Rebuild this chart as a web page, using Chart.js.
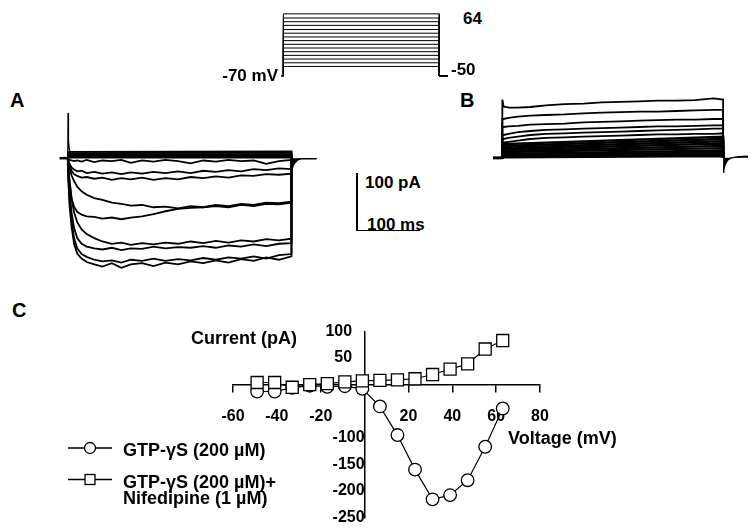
<!DOCTYPE html>
<html>
<head>
<meta charset="utf-8">
<script src="https://cdn.jsdelivr.net/npm/chart.js@4.4.0/dist/chart.umd.min.js"></script>
<style>
  body { margin: 0; width: 751px; height: 531px; background: #fff; position: relative; overflow: hidden; }
  canvas, .t, .bar { position: absolute; }
  .t { font-family: 'Liberation Sans', Arial, sans-serif; font-weight: bold; color: #000; white-space: nowrap; }
  .bar { background: #000; }
</style>
</head>
<body>
<canvas id="proto" width="169" height="66" style="left:279px;top:12px"></canvas>
<canvas id="panelA" width="271" height="174" style="left:52px;top:104px"></canvas>
<canvas id="panelB" width="255" height="80" style="left:493px;top:95px"></canvas>
<canvas id="panelC" width="400" height="216" style="left:175px;top:316px"></canvas>

<div class="t" style="left:10px;top:90px;font-size:20px;line-height:20px">A</div>
<div class="t" style="left:460px;top:90px;font-size:20px;line-height:20px">B</div>
<div class="t" style="left:12px;top:300px;font-size:20px;line-height:20px">C</div>

<div class="t" style="right:473px;top:67px;font-size:17px;line-height:17px">-70 mV</div>
<div class="t" style="left:463px;top:10px;font-size:17px;line-height:17px">64</div>
<div class="t" style="left:451px;top:61px;font-size:17px;line-height:17px">-50</div>

<div class="bar" style="left:356px;top:173px;width:1.5px;height:58px"></div>
<div class="bar" style="left:356px;top:229.5px;width:64px;height:1.5px"></div>
<div class="t" style="left:365px;top:174px;font-size:17px;line-height:17px">100 pA</div>
<div class="t" style="left:367px;top:216px;font-size:17px;line-height:17px">100 ms</div>

<div class="t" style="left:191px;top:329px;font-size:18px;line-height:18px">Current (pA)</div>
<div class="t" style="left:508px;top:429px;font-size:18px;line-height:18px">Voltage (mV)</div>

<svg style="position:absolute;left:60px;top:435px" width="60" height="60">
  <line x1="8" y1="13" x2="52" y2="13" stroke="#000" stroke-width="1.3"/>
  <circle cx="30" cy="13" r="5.5" fill="#fff" stroke="#000" stroke-width="1.3"/>
  <line x1="8" y1="44.5" x2="52" y2="44.5" stroke="#000" stroke-width="1.3"/>
  <rect x="25" y="39.5" width="10" height="10" fill="#fff" stroke="#000" stroke-width="1.3"/>
</svg>
<div class="t" style="left:123px;top:441px;font-size:18px;line-height:18px">GTP-γS (200 µM)</div>
<div class="t" style="left:123px;top:473px;font-size:18px;line-height:18px">GTP-γS (200 µM)+</div>
<div class="t" style="left:123px;top:489px;font-size:18px;line-height:18px">Nifedipine (1 µM)</div>

<script>
// panel C: I-V relation
const ivVoltage = [-49, -41, -33, -25, -17, -9, -1, 7, 15, 23, 31, 39, 47, 55, 63];
const ivGtp = [-13, -13, -6, -2, -4, -3, -8, -41, -95, -160, -216, -208, -180, -117, -45];
const ivGtpNif = [4, 4, -5, 0, 2, 5, 7, 8, 9, 11, 19, 29, 39, 67, 83];
const ivXTicks = [-60, -40, -20, 0, 20, 40, 60, 80];

// voltage protocol (mV)
const holdingMv = -70;
const stepLevels = [-50, -42, -34, -26, -18, -10, -2, 6, 14, 22, 30, 39, 47, 55, 64];
const pulseMs = 355;

// panel A traces (pA), GTP-gS
const tA = [0, 1, 3, 6, 10, 15, 22, 30, 42, 55, 70, 85, 100, 118, 136, 155, 175, 195, 215, 235, 255, 275, 295, 315, 335, 355];
const traceA1 = [0, -40, -85, -120, -150, -167, -176, -182, -186, -190, -184, -192, -186, -184, -189, -183, -186, -181, -184, -179, -183, -177, -180, -174, -178, -172];
const traceA2 = [0, -35, -75, -110, -140, -158, -168, -173, -178, -181, -179, -183, -178, -180, -176, -180, -177, -179, -175, -178, -174, -176, -172, -176, -170, -168];
const traceA3 = [0, -25, -60, -95, -122, -140, -150, -155, -158, -160, -157, -161, -158, -159, -155, -158, -156, -157, -154, -157, -153, -155, -151, -154, -150, -149];
const traceA4 = [0, -15, -40, -70, -95, -112, -125, -133, -140, -146, -150, -148, -152, -149, -151, -148, -150, -146, -149, -145, -148, -144, -146, -142, -144, -141];
const traceA5 = [0, -20, -45, -70, -85, -94, -99, -102, -103, -106, -104, -107, -104, -102, -98, -93, -89, -87, -86, -84, -86, -82, -84, -80, -81, -78];
const traceA6 = [0, -8, -18, -30, -40, -50, -58, -64, -70, -73, -78, -80, -83, -82, -86, -85, -88, -84, -86, -82, -84, -80, -82, -78, -79, -76];
const traceA7 = [0, -6, -14, -22, -28, -31, -34, -33, -36, -34, -38, -35, -37, -34, -38, -35, -37, -33, -35, -32, -34, -30, -31, -28, -29, -27];
const traceA8 = [0, -4, -10, -16, -20, -23, -22, -26, -24, -27, -25, -28, -25, -27, -24, -26, -23, -26, -22, -24, -21, -23, -19, -21, -18, -19];
const traceA9 = [0, -2, -3, -4, -5, -4, -6, -3, -7, -4, -5, -3, -8, -4, -6, -3, -5, -9, -4, -6, -3, -5, -4, -10, -5, -3];
const bandAStart = [11, 9, 7, 5, 3, 1];
const bandAEnd = [12, 10, 7, 5, 3, 1];
const tSpikeA = [0, 0.4, 1.2, 2.5, 4];
const spikeA = [0, 79, 30, 15, 11];
const tTailA = [355, 356, 358, 361, 365, 370, 395];
const tailA = [-22, -18, -12, -7, -3, -1, -1];

// panel B traces (pA), GTP-gS + nifedipine
const tB = [0, 2, 10, 25, 45, 70, 100, 130, 160, 190, 220, 250, 280, 310, 340, 355];
const traceB1 = [102, 90, 88, 88, 89, 92, 94, 95, 97, 98, 99, 100, 100, 101, 104, 102];
const traceB2 = [68, 68, 70, 72, 74, 75, 76, 78, 79, 80, 81, 81, 82, 83, 84, 84];
const traceB3 = [54, 54, 55, 56, 58, 59, 60, 62, 63, 64, 65, 66, 67, 67, 68, 68];
const traceB4 = [40, 40, 42, 45, 47, 49, 50, 51, 52, 53, 54, 55, 55, 56, 57, 57];
const traceB5 = [33, 33, 35, 37, 40, 42, 43, 44, 45, 46, 47, 48, 49, 50, 51, 51];
const traceB6 = [27, 27, 28, 30, 33, 35, 36, 37, 38, 39, 40, 41, 41, 42, 42, 43];
const bandBStart = [24, 21, 18, 15, 12, 10, 7, 5, 3, 1];
const bandBEnd = [37, 33, 29, 25, 21, 17, 13, 9, 6, 3];
const tTailB = [355, 356, 358, 362, 368, 380, 395];
const tailB = [-25, -20, -12, -4, 0, 2, 3];

const fontFamily = "'Liberation Sans', Arial, sans-serif";

const pts = (xs, ys) => xs.map((x, i) => ({ x: x, y: ys[i] }));

function line(data, width, extra) {
    return Object.assign({
        data: data,
        showLine: true,
        borderColor: '#000',
        borderWidth: width,
        pointRadius: 0,
        tension: 0,
        fill: false
    }, extra || {});
}

function bareOptions(xmin, xmax, ymin, ymax) {
    return {
        responsive: false,
        animation: false,
        events: [],
        layout: { padding: 0 },
        plugins: { legend: { display: false }, tooltip: { enabled: false } },
        scales: {
            x: { type: 'linear', display: false, min: xmin, max: xmax },
            y: { type: 'linear', display: false, min: ymin, max: ymax }
        }
    };
}

// protocol
new Chart(document.getElementById('proto'), {
    type: 'scatter',
    data: {
        datasets: stepLevels.map(v => line([
            { x: -4, y: holdingMv }, { x: 0, y: holdingMv }, { x: 0, y: v },
            { x: pulseMs, y: v }, { x: pulseMs, y: holdingMv }, { x: 375, y: holdingMv }
        ], 1))
    },
    options: bareOptions(-10, 375, -75, 68)
});

// panel A
const tracesA = [traceA1, traceA2, traceA3, traceA4, traceA5, traceA6, traceA7, traceA8, traceA9];
const dsA = [];
dsA.push(line([{ x: -13, y: 0 }, { x: 0, y: 0 }], 2.5));
tracesA.forEach(tr => dsA.push(line(pts(tA, tr).concat([{ x: pulseMs, y: 0 }]), 1.8)));
bandAStart.forEach((s, i) => dsA.push(line([{ x: 0, y: 0 }, { x: 0.5, y: s }, { x: pulseMs, y: bandAEnd[i] }, { x: pulseMs, y: 0 }], 1.8)));
dsA.push(line(pts(tSpikeA, spikeA), 1.2));
dsA.push(line(pts(tTailA, tailA), 1.5, { fill: 'origin', backgroundColor: '#000' }));

new Chart(document.getElementById('panelA'), {
    type: 'scatter',
    data: { datasets: dsA },
    options: bareOptions(-25, 405, -210, 95)
});

// panel B
const tracesB = [traceB1, traceB2, traceB3, traceB4, traceB5, traceB6];
const dsB = [];
dsB.push(line([{ x: -15, y: 0 }, { x: 0, y: 0 }], 3));
tracesB.forEach(tr => dsB.push(line([{ x: 0, y: 0 }].concat(pts(tB, tr), [{ x: pulseMs, y: 0 }]), 1.8)));
bandBStart.forEach((s, i) => dsB.push(line([{ x: 0, y: 0 }, { x: 0.5, y: s }, { x: pulseMs, y: bandBEnd[i] }, { x: pulseMs, y: 0 }], 2.4)));
dsB.push(line(pts(tTailB, tailB), 1.5, { fill: 'origin', backgroundColor: '#000' }));

new Chart(document.getElementById('panelB'), {
    type: 'scatter',
    data: { datasets: dsB },
    options: bareOptions(-15, 395, -30, 110)
});

// panel C
const tickFont = { family: fontFamily, size: 16, weight: 'bold' };
new Chart(document.getElementById('panelC'), {
    type: 'scatter',
    data: {
        datasets: [
            {
                label: 'GTP-γS (200 µM)+ Nifedipine (1 µM)',
                data: pts(ivVoltage, ivGtpNif),
                showLine: true,
                borderColor: '#000',
                borderWidth: 1.2,
                pointStyle: 'rect',
                pointRadius: 8.5,
                pointBackgroundColor: '#fff',
                pointBorderColor: '#000',
                pointBorderWidth: 1.3,
                order: 0
            },
            {
                label: 'GTP-γS (200 µM)',
                data: pts(ivVoltage, ivGtp),
                showLine: true,
                borderColor: '#000',
                borderWidth: 1.2,
                pointStyle: 'circle',
                pointRadius: 6.3,
                pointBackgroundColor: '#fff',
                pointBorderColor: '#000',
                pointBorderWidth: 1.3,
                order: 1
            }
        ]
    },
    options: {
        responsive: false,
        animation: false,
        events: [],
        layout: { padding: { left: 58, right: 35, top: 15.5, bottom: 11.5 } },
        plugins: { legend: { display: false }, tooltip: { enabled: false } },
        scales: {
            x: {
                type: 'linear',
                min: ivXTicks[0],
                max: ivXTicks[ivXTicks.length - 1],
                position: { y: 0 },
                afterBuildTicks: axis => { axis.ticks = ivXTicks.map(v => ({ value: v })); },
                ticks: {
                    color: '#000',
                    font: tickFont,
                    padding: 15,
                    maxRotation: 0,
                    autoSkip: false,
                    callback: v => (v === 0 ? '' : v)
                },
                grid: { drawOnChartArea: false, drawTicks: true, tickLength: 7, color: '#000', lineWidth: 1.5 },
                border: { display: true, color: '#000', width: 1.5 }
            },
            y: {
                type: 'linear',
                min: -250,
                max: 100,
                position: { x: 0 },
                ticks: {
                    stepSize: 50,
                    color: '#000',
                    font: tickFont,
                    padding: 5,
                    callback: v => (v === 0 || v === -50 ? '' : (v > 0 ? v + '\u2002 ' : v))
                },
                grid: { drawOnChartArea: false, drawTicks: false, color: '#000', lineWidth: 1.5 },
                border: { display: true, color: '#000', width: 1.5 }
            }
        }
    }
});
</script>
</body>
</html>
